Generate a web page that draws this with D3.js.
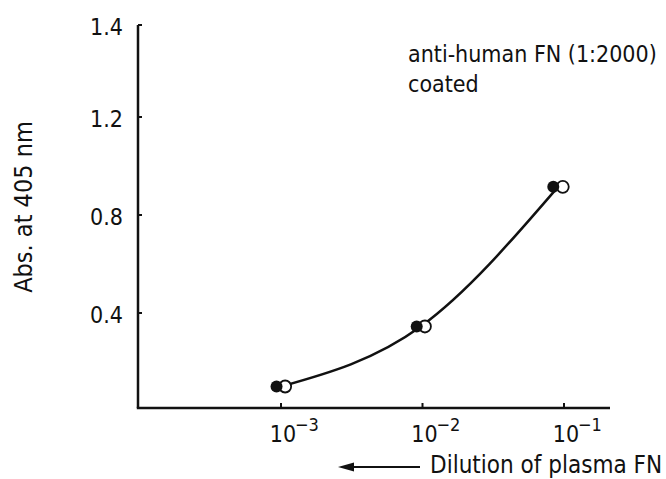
<!DOCTYPE html>
<html>
<head>
<meta charset="utf-8">
<script src="https://cdn.jsdelivr.net/npm/d3@7/dist/d3.min.js"></script>
<style>
  html, body { margin: 0; padding: 0; background: #fff; }
  svg { display: block; }
  text { font-family: "DejaVu Sans Condensed", "Liberation Sans Narrow", "Liberation Sans", sans-serif; fill: #111; }
</style>
</head>
<body>
<svg id="chart" width="666" height="479"></svg>
<script>
// ---- data ----
const dilutionFilled = [0.00093, 0.0091, 0.084];
const absFilled      = [0.10, 0.345, 0.915];
const dilutionOpen   = [0.00107, 0.0104, 0.098];
const absOpen        = [0.10, 0.345, 0.915];
const xTickExponents = [-3, -2, -1];
const yTickValues    = [0.4, 0.8, 1.2, 1.4];
const yTickLabels    = ["0.4", "0.8", "1.2", "1.4"];
const annotationLines = ["anti-human FN (1:2000)", "coated"];
const xAxisTitle = "Dilution of plasma FN";
const yAxisTitle = "Abs. at 405 nm";

// ---- layout ----
const svg = d3.select("#chart");
const ink = "#111";
const x = d3.scaleLog().domain([1e-3, 1e-1]).range([281, 564]);
// original axis: the 1.4 label sits where 1.6 would be (piecewise scale reproduces it)
const y = d3.scaleLinear().domain([0, 1.2, 1.4]).range([411, 117, 25]);
const xLeft = 138, xRight = 610, yAxisY = 408;

// y axis
svg.append("line").attr("x1", xLeft).attr("x2", xLeft)
  .attr("y1", y(1.4)).attr("y2", yAxisY)
  .attr("stroke", ink).attr("stroke-width", 2.5);
// x axis
svg.append("line").attr("x1", xLeft - 1.2).attr("x2", xRight)
  .attr("y1", yAxisY).attr("y2", yAxisY)
  .attr("stroke", ink).attr("stroke-width", 2.5);

// y ticks
const yt = svg.append("g");
yTickValues.forEach((v, i) => {
  yt.append("line").attr("x1", xLeft).attr("x2", xLeft + 4)
    .attr("y1", y(v)).attr("y2", y(v)).attr("stroke", ink).attr("stroke-width", 2);
  yt.append("text").attr("x", 123).attr("y", y(v) + 10)
    .attr("text-anchor", "end").attr("font-size", 23).text(yTickLabels[i]);
});

// x ticks
const xt = svg.append("g");
xTickExponents.forEach(e => {
  const px = x(Math.pow(10, e));
  xt.append("line").attr("x1", px).attr("x2", px)
    .attr("y1", yAxisY).attr("y2", yAxisY - 5).attr("stroke", ink).attr("stroke-width", 2);
  xt.append("text").attr("x", px + 2).attr("y", 442)
    .attr("text-anchor", "middle").attr("font-size", 23).text("10");
  xt.append("text").attr("x", px + 14).attr("y", 431)
    .attr("font-size", 18).text("\u2212" + Math.abs(e));
});

// curve through pair centres
const curvePts = dilutionFilled.map((d, i) => [Math.sqrt(d * dilutionOpen[i]), (absFilled[i] + absOpen[i]) / 2]);
const line = d3.line().x(d => x(d[0])).y(d => y(d[1])).curve(d3.curveMonotoneX);
svg.append("path").datum(curvePts).attr("d", line)
  .attr("fill", "none").attr("stroke", ink).attr("stroke-width", 2.5);

// points
svg.append("g").selectAll("circle").data(dilutionOpen.map((d, i) => [d, absOpen[i]]))
  .join("circle").attr("cx", d => x(d[0])).attr("cy", d => y(d[1])).attr("r", 6)
  .attr("fill", "#fff").attr("stroke", ink).attr("stroke-width", 1.8);
svg.append("g").selectAll("circle").data(dilutionFilled.map((d, i) => [d, absFilled[i]]))
  .join("circle").attr("cx", d => x(d[0])).attr("cy", d => y(d[1])).attr("r", 6)
  .attr("fill", ink);

// annotation
annotationLines.forEach((s, i) => {
  svg.append("text").attr("x", 408).attr("y", 62 + i * 30).attr("font-size", 23).text(s);
});

// y title
svg.append("text").attr("transform", "translate(32,207) rotate(-90)")
  .attr("text-anchor", "middle").attr("font-size", 25).text(yAxisTitle);

// x title with arrow
svg.append("text").attr("x", 430).attr("y", 473).attr("font-size", 24).text(xAxisTitle);
svg.append("line").attr("x1", 350).attr("x2", 420).attr("y1", 467).attr("y2", 467)
  .attr("stroke", ink).attr("stroke-width", 2);
svg.append("path").attr("d", d3.line()([[338, 467], [354, 462.5], [354, 471.5]]) + "Z").attr("fill", ink);
</script>
</body>
</html>
